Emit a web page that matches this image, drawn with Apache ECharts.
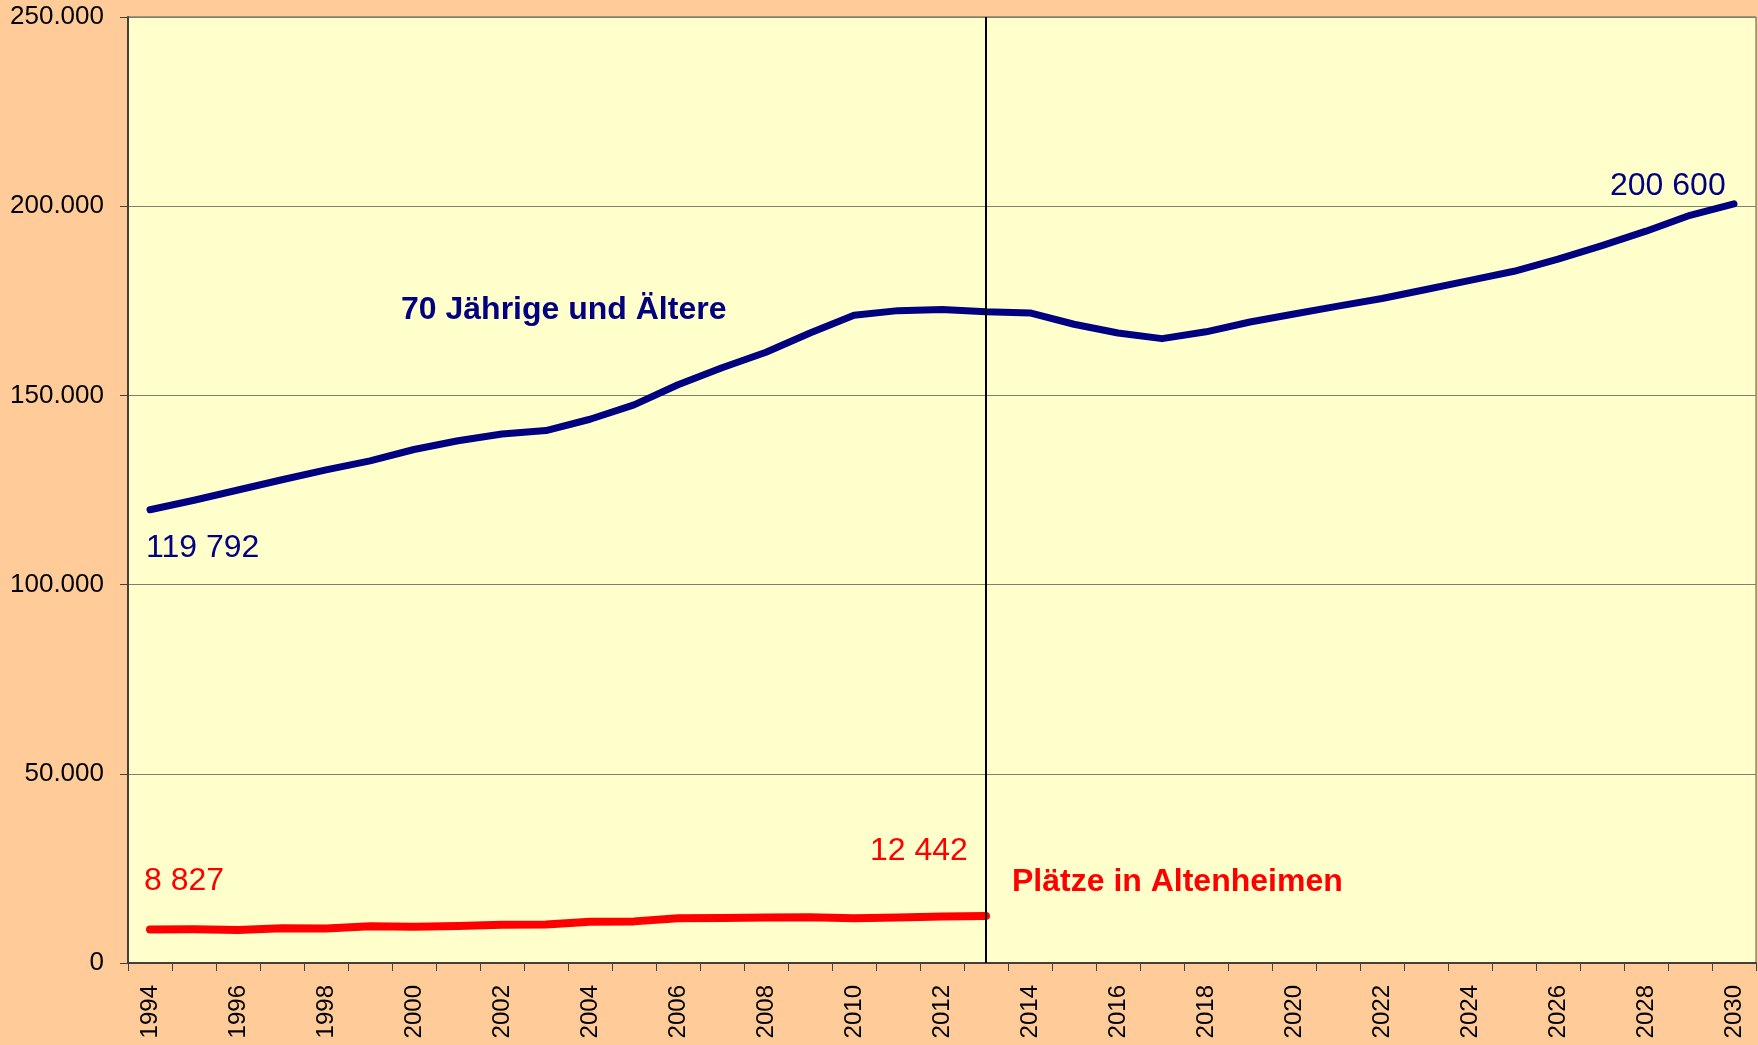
<!DOCTYPE html>
<html>
<head>
<meta charset="utf-8">
<script src="https://cdn.jsdelivr.net/npm/echarts@6/dist/echarts.min.js"></script>
<style>
  html, body { margin: 0; padding: 0; background: #FFCC99; }
  #chart { width: 1758px; height: 1045px; }
</style>
</head>
<body>
<div id="chart"></div>
<script>
var years = [];
for (var y = 1994; y <= 2030; y++) years.push(String(y));

// 70 Jährige und Ältere
var older = [
  119792, 122300, 125000, 127700, 130300, 132700, 135700, 138000, 139800, 140700,
  143700, 147500, 152800, 157300, 161400, 166500, 171200, 172400, 172700, 172100,
  171800, 168800, 166500, 165000, 166800, 169400, 171500, 173600, 175600, 178000,
  180400, 182800, 186000, 189600, 193400, 197600, 200600
];

// Plätze in Altenheimen (1994-2013)
var places = [
  8827, 8900, 8750, 9200, 9100, 9700, 9600, 9800, 10100, 10200,
  10900, 11000, 11800, 11900, 12000, 12100, 11800, 12000, 12300, 12442
];

var yTicks = [0, 50000, 100000, 150000, 200000, 250000];
var cutYear = '2013';

var font = '"Liberation Sans", Arial, sans-serif';

function fmt(v) {
  return String(v).replace(/\B(?=(\d{3})+(?!\d))/g, '.');
}

var chartDom = document.getElementById('chart');
var myChart = echarts.init(chartDom);

var option = {
  backgroundColor: '#FFCC99',
  animation: false,
  grid: {
    left: 128, top: 17, right: 2, bottom: 82,
    show: true,
    backgroundColor: '#FFFFCC',
    borderColor: '#555555',
    borderWidth: 1
  },
  xAxis: {
    type: 'category',
    data: years,
    boundaryGap: true,
    axisLine: { lineStyle: { color: '#404040', width: 2 } },
    axisTick: { show: true, interval: 0, length: 8, lineStyle: { color: '#404040' } },
    axisLabel: {
      interval: 1,
      rotate: 90,
      margin: 22,
      color: '#000',
      fontSize: 24,
      fontFamily: font
    },
    splitLine: { show: false }
  },
  yAxis: {
    type: 'value',
    min: yTicks[0],
    max: yTicks[yTicks.length - 1],
    interval: 50000,
    axisLine: { show: true, lineStyle: { color: '#404040', width: 2 } },
    axisTick: { show: true, length: 8, lineStyle: { color: '#404040' } },
    axisLabel: {
      margin: 24,
      color: '#000',
      fontSize: 26,
      fontFamily: font,
      formatter: fmt
    },
    splitLine: { show: true, lineStyle: { color: '#808070', width: 1 } }
  },
  series: [
    {
      name: '70 Jährige und Ältere',
      type: 'line',
      data: older,
      symbol: 'none',
      lineStyle: { color: '#000080', width: 7, cap: 'round', join: 'round' },
      markLine: {
        silent: true,
        symbol: 'none',
        label: { show: false },
        lineStyle: { color: '#000000', width: 2, type: 'solid' },
        data: [{ xAxis: cutYear }]
      }
    },
    {
      name: 'Plätze in Altenheimen',
      type: 'line',
      data: places,
      symbol: 'none',
      lineStyle: { color: '#FF0000', width: 8, cap: 'round', join: 'round' }
    }
  ],
  graphic: [
    { type: 'text', left: 401, top: 294, style: { text: '70 Jährige und Ältere', fill: '#000080', font: 'bold 32px ' + font } },
    { type: 'text', left: 1012, top: 866, style: { text: 'Plätze in Altenheimen', fill: '#FF0000', font: 'bold 32px ' + font } },
    { type: 'text', left: 146, top: 532, style: { text: '119 792', fill: '#000080', font: '32px ' + font } },
    { type: 'text', left: 1610, top: 170, style: { text: '200 600', fill: '#000080', font: '32px ' + font } },
    { type: 'text', left: 144, top: 865, style: { text: '8 827', fill: '#FF0000', font: '32px ' + font } },
    { type: 'text', left: 870, top: 835, style: { text: '12 442', fill: '#FF0000', font: '32px ' + font } }
  ]
};

myChart.setOption(option);
</script>
</body>
</html>
